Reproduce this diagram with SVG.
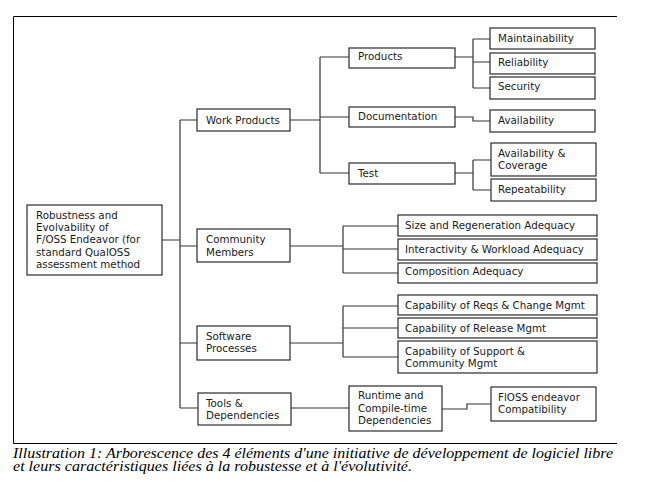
<svg xmlns="http://www.w3.org/2000/svg" width="661" height="491" viewBox="0 0 661 491">
<style>
.box{fill:#fff;stroke:#2a2a2a;stroke-width:1.2}
.t{font-family:"DejaVu Sans",sans-serif;font-size:10.3px;fill:#1a1a1a}
.c{fill:none;stroke:#333;stroke-width:1.2}
.frame{fill:none;stroke:#000;stroke-width:1}
.cap{font-family:"Liberation Serif","DejaVu Serif",serif;font-style:italic;font-size:14px;fill:#000}
</style>
<rect width="661" height="491" fill="#fff"/>
<path class="frame" d="M617,16.5H13.5V443.5H617"/>
<g id="connectors">
<path class="c" d="M162,240H180M180,120V408M180,120H197M180,246H197M180,343H197M180,408H198"/>
<path class="c" d="M290,120H320M320,57V173M320,57H349M320,117H349M320,173H349"/>
<path class="c" d="M455,57H473M473,39V88M473,39H490M473,62H490M473,88H490"/>
<path class="c" d="M455,117H473V121H490"/>
<path class="c" d="M455,173H473M473,160V190M473,160H491M473,190H491"/>
<path class="c" d="M290,246H343M343,226V273M343,226H398M343,249H398M343,273H398"/>
<path class="c" d="M290,343H343M343,306V357M343,306H398M343,328H398M343,357H398"/>
<path class="c" d="M291,408H349"/>
<path class="c" d="M442,409H467V404H491"/>
</g>
<g id="root"><rect class="box" x="27" y="205" width="135" height="70"/>
<text class="t" x="36" y="219">Robustness and</text>
<text class="t" x="36" y="231.2">Evolvability of</text>
<text class="t" x="36" y="243.4">F/OSS Endeavor (for</text>
<text class="t" x="36" y="255.6">standard QualOSS</text>
<text class="t" x="36" y="267.8">assessment method</text></g>
<g id="work-products"><rect class="box" x="197" y="109" width="93" height="22"/><text class="t" x="206" y="124">Work Products</text></g>
<g id="community-members"><rect class="box" x="197" y="229" width="93" height="33"/><text class="t" x="206" y="243">Community</text><text class="t" x="206" y="255.5">Members</text></g>
<g id="software-processes"><rect class="box" x="197" y="326" width="93" height="34"/><text class="t" x="206" y="340">Software</text><text class="t" x="206" y="352">Processes</text></g>
<g id="tools-dependencies"><rect class="box" x="198" y="393" width="93" height="32"/><text class="t" x="206" y="406.5">Tools &amp;</text><text class="t" x="206" y="418.5">Dependencies</text></g>
<g id="products"><rect class="box" x="349" y="48" width="106" height="20"/><text class="t" x="358" y="60">Products</text></g>
<g id="documentation"><rect class="box" x="349" y="107" width="106" height="20"/><text class="t" x="358" y="120">Documentation</text></g>
<g id="test"><rect class="box" x="349" y="163" width="106" height="21"/><text class="t" x="358" y="176.5">Test</text></g>
<g id="maintainability"><rect class="box" x="490" y="28" width="105" height="21"/><text class="t" x="498" y="42">Maintainability</text></g>
<g id="reliability"><rect class="box" x="490" y="53" width="105" height="21"/><text class="t" x="498" y="66">Reliability</text></g>
<g id="security"><rect class="box" x="490" y="77" width="105" height="22"/><text class="t" x="498" y="90">Security</text></g>
<g id="availability"><rect class="box" x="490" y="110" width="105" height="22"/><text class="t" x="498" y="124">Availability</text></g>
<g id="availability-coverage"><rect class="box" x="491" y="143" width="105" height="33"/><text class="t" x="498" y="156.5">Availability &amp;</text><text class="t" x="498" y="169">Coverage</text></g>
<g id="repeatability"><rect class="box" x="491" y="179" width="105" height="22"/><text class="t" x="498" y="193">Repeatability</text></g>
<g id="size-regeneration"><rect class="box" x="398" y="215" width="199" height="21"/><text class="t" x="405" y="229">Size and Regeneration Adequacy</text></g>
<g id="interactivity-workload"><rect class="box" x="398" y="239" width="199" height="21"/><text class="t" x="405" y="253">Interactivity &amp; Workload Adequacy</text></g>
<g id="composition"><rect class="box" x="398" y="263" width="199" height="20"/><text class="t" x="405" y="275">Composition Adequacy</text></g>
<g id="reqs-change"><rect class="box" x="398" y="295" width="199" height="20"/><text class="t" x="405" y="309">Capability of Reqs &amp; Change Mgmt</text></g>
<g id="release"><rect class="box" x="398" y="318" width="199" height="20"/><text class="t" x="405" y="332">Capability of Release Mgmt</text></g>
<g id="support-community"><rect class="box" x="398" y="341" width="199" height="32"/><text class="t" x="405" y="355">Capability of Support &amp;</text><text class="t" x="405" y="367">Community Mgmt</text></g>
<g id="runtime"><rect class="box" x="349" y="386" width="93" height="45"/><text class="t" x="358" y="399">Runtime and</text><text class="t" x="358" y="411.5">Compile-time</text><text class="t" x="358" y="424">Dependencies</text></g>
<g id="floss-compat"><rect class="box" x="491" y="387" width="105" height="34"/><text class="t" x="498" y="401">FlOSS endeavor</text><text class="t" x="498" y="413">Compatibility</text></g>
<g id="caption">
<text class="cap" x="13" y="457.5" textLength="600" lengthAdjust="spacingAndGlyphs">Illustration 1: Arborescence des 4 éléments d'une initiative de développement de logiciel libre</text>
<text class="cap" x="13" y="471" textLength="399" lengthAdjust="spacingAndGlyphs">et leurs caractéristiques liées à la robustesse et à l'évolutivité.</text>
</g>
</svg>
